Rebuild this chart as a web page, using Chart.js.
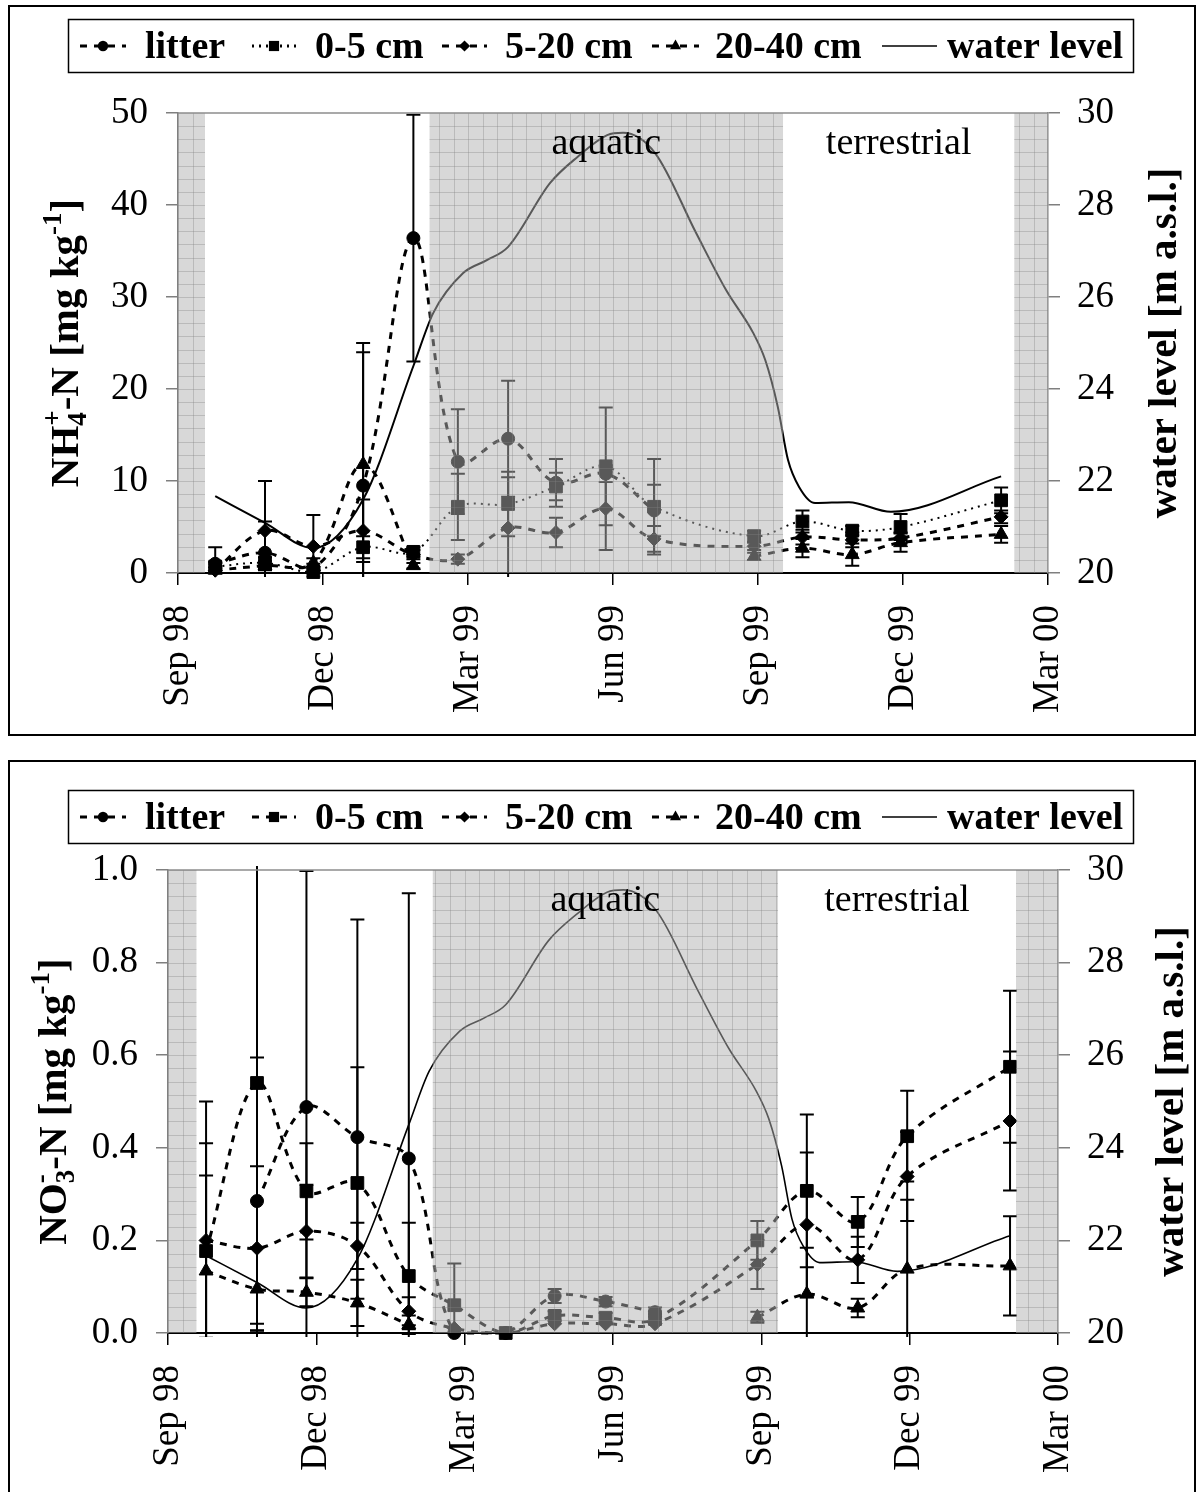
<!DOCTYPE html>
<html>
<head>
<meta charset="utf-8">
<script src="https://cdn.jsdelivr.net/npm/chart.js@4.4.1/dist/chart.umd.min.js"></script>
<style>
  body { margin: 0; background: #fff; width: 1200px; height: 1492px; position: relative; overflow: hidden; }
  canvas { position: absolute; left: 0; }
  #nh4 { top: 0; }
  #no3 { top: 750px; }
  .frame { position: absolute; border: 2px solid #000; box-sizing: border-box; pointer-events: none; }
</style>
</head>
<body>
<canvas id="nh4" width="1200" height="740"></canvas>
<canvas id="no3" width="1200" height="742"></canvas>
<div class="frame" style="left:8px;top:5px;width:1188px;height:731px"></div>
<div class="frame" style="left:8px;top:760px;width:1188px;height:760px"></div>
<script>
const tickLabels = ["Sep 98", "Dec 98", "Mar 99", "Jun 99", "Sep 99", "Dec 99", "Mar 00"];

// sampling dates in months after 1 Sep 1998
const sampleMonths = [0.77, 1.8, 2.8, 3.83, 4.87, 5.79, 6.83, 7.82, 8.85, 9.85, 11.92, 12.92, 13.95, 14.95, 17.03];

// NH4+-N [mg/kg], means and standard deviations
const nh4Litter   = [1.0, 2.2, 0.5, 9.5, 36.4, 12.1, 14.6, 9.8, 10.8, 6.8, null, null, null, null, null];
const nh4LitterSd = [1.8, 3.4, 0.5, 14.5, 13.4, 5.7, 6.3, 2.6, 0.9, 2.8, null, null, null, null, null];
const nh4Top      = [0.7, 1.1, 0.1, 2.8, 2.3, 7.2, 7.5, 9.4, 11.6, 7.2, 4.0, 5.6, 4.6, 5.0, 7.9];
const nh4TopSd    = [0.5, 0.6, 0.1, 1.2, 0.5, 3.6, 3.5, 1.5, 6.4, 5.2, 0.6, 1.2, 0.5, 1.4, 1.4];
const nh4Mid      = [0.3, 4.6, 2.9, 4.6, 2.0, 1.5, 4.9, 4.4, 7.0, 3.7, 2.9, 3.9, 3.6, 3.8, 6.1];
const nh4MidSd    = [0.3, 5.4, 3.4, 3.4, 0.5, 0.5, 5.5, 1.6, 4.5, 1.4, 0.4, 0.8, 0.8, 0.6, 0.7];
const nh4Deep     = [0.3, 0.8, 1.1, 11.8, 0.8, null, null, null, null, null, 1.8, 2.7, 2.0, 3.3, 4.2];
const nh4DeepSd   = [0.3, 0.5, 0.5, 13.2, 0.3, null, null, null, null, null, 0.4, 1.0, 1.2, 1.0, 0.9];

// NO3--N [mg/kg], means and standard deviations
const no3Litter   = [null, 0.285, 0.488, 0.423, 0.377, 0.0, 0.0, 0.08, 0.068, 0.045, null, null, null, null, null];
const no3LitterSd = [null, 0.31, 0.51, 0.47, 0.573, 0, 0, 0.015, 0.01, 0.01, null, null, null, null, null];
const no3Top      = [0.177, 0.54, 0.306, 0.324, 0.123, 0.06, 0.0, 0.037, 0.033, 0.03, 0.2, 0.307, 0.24, 0.425, 0.575];
const no3TopSd    = [0.323, 0.52, 0.104, 0.25, 0.115, 0.09, 0, 0.01, 0.01, 0.01, 0.042, 0.165, 0.054, 0.098, 0.164];
const no3Mid      = [0.2, 0.183, 0.22, 0.188, 0.047, 0.01, 0.0, 0.02, 0.02, 0.02, 0.148, 0.234, 0.158, 0.338, 0.458];
const no3MidSd    = [0.21, 0.177, 0.1, 0.05, 0.03, 0, 0, 0, 0, 0, 0.053, 0.156, 0.05, 0.096, 0.15];
const no3Deep     = [0.134, 0.095, 0.088, 0.065, 0.018, null, null, null, null, null, 0.034, 0.084, 0.054, 0.138, 0.145];
const no3DeepSd   = [0.206, 0.09, 0.03, 0.05, 0.02, null, null, null, null, null, 0.012, 0.1, 0.02, 0.15, 0.107];

// river water level [m a.s.l.]
const waterMonths = [0.77, 1.8, 2.79, 3.83, 4.87, 5.28, 5.9, 6.39, 6.83, 7.7, 8.26, 8.88, 9.21, 9.87, 10.72, 11.34, 11.9, 12.15, 12.41, 12.62, 12.85, 13.18, 13.88, 14.75, 17.03];
const waterLevel  = [21.67, 21.09, 20.54, 21.6, 24.5, 25.65, 26.52, 26.8, 27.09, 28.48, 29.04, 29.52, 29.57, 29.13, 27.39, 26.15, 25.22, 24.63, 23.61, 22.46, 21.87, 21.52, 21.54, 21.33, 22.1];

// flooded periods (months) for each sampling series
const floodedNh4 = [[0, 0.56], [5.2, 12.52], [17.3, 18]];
const floodedNo3 = [[0, 0.58], [5.35, 12.34], [17.15, 18]];

const serif = '"Liberation Serif", "Times New Roman", serif';
Chart.defaults.font.family = serif;
Chart.defaults.color = '#000';

function pts(xs, ys) {
  return xs.map((m, i) => ({ x: m, y: ys[i] }));
}

function marker(ctx, style, cx, cy, r) {
  ctx.beginPath();
  if (style === 'circle') {
    ctx.arc(cx, cy, r, 0, Math.PI * 2);
  } else if (style === 'rect') {
    const h = r * Math.SQRT1_2;
    ctx.rect(cx - h, cy - h, 2 * h, 2 * h);
  } else if (style === 'rectRot') {
    ctx.moveTo(cx, cy - r); ctx.lineTo(cx + r, cy); ctx.lineTo(cx, cy + r); ctx.lineTo(cx - r, cy);
    ctx.closePath();
  } else if (style === 'triangle') {
    ctx.moveTo(cx, cy - r);
    ctx.lineTo(cx + r * 0.866, cy + r * 0.5);
    ctx.lineTo(cx - r * 0.866, cy + r * 0.5);
    ctx.closePath();
  }
  ctx.fill();
}

// text with sub- and superscripts, drawn rotated so it reads bottom to top
function drawRotatedRich(ctx, parts, bx, cy, size) {
  const small = Math.round(size * 0.66);
  const items = [];
  let x = 0, lastX = 0, lastW = 0;
  parts.forEach(([t, k]) => {
    const s = k ? small : size;
    ctx.font = `bold ${s}px ${serif}`;
    const w = ctx.measureText(t).width;
    if (k === 'over') {
      items.push({ t, s, x: lastX, dy: -size * 0.42 });
      x = lastX + Math.max(lastW, w);
    } else {
      const dy = k === 'sub' ? size * 0.2 : k === 'sup' ? -size * 0.42 : 0;
      items.push({ t, s, x, dy });
      lastX = x; lastW = w; x += w;
    }
  });
  ctx.save();
  ctx.translate(bx, cy);
  ctx.rotate(-Math.PI / 2);
  ctx.fillStyle = '#000';
  ctx.textBaseline = 'alphabetic';
  ctx.textAlign = 'left';
  items.forEach(it => {
    ctx.font = `bold ${it.s}px ${serif}`;
    ctx.fillText(it.t, it.x - x / 2, it.dy);
  });
  ctx.restore();
}

const phasePlugin = {
  id: 'phases',
  afterDatasetsDraw(chart, args, o) {
    const { ctx, chartArea: a } = chart;
    const xs = chart.scales.x, ys = chart.scales.y;

    // error bars (mean +- SD), cut at the plot area
    ctx.save();
    ctx.beginPath();
    ctx.rect(a.left - 20, a.top - 4, a.width + 40, a.height + 8);
    ctx.clip();
    ctx.strokeStyle = '#000';
    ctx.lineWidth = 2;
    chart.data.datasets.forEach(ds => {
      if (!ds.sd) return;
      ds.data.forEach((p, i) => {
        const e = ds.sd[i];
        if (p.y == null || !e) return;
        const px = xs.getPixelForValue(p.x);
        const hi = ys.getPixelForValue(p.y + e);
        const lo = ys.getPixelForValue(p.y - e);
        ctx.beginPath();
        ctx.moveTo(px, hi); ctx.lineTo(px, lo);
        ctx.moveTo(px - 7, hi); ctx.lineTo(px + 7, hi);
        ctx.moveTo(px - 7, lo); ctx.lineTo(px + 7, lo);
        ctx.stroke();
      });
    });
    ctx.restore();

    // flooded periods: translucent grey with a fine grid laid over the data
    const colW = a.width / 60, rowH = a.height / 35;
    o.bands.forEach(([m0, m1]) => {
      const x0 = xs.getPixelForValue(m0), x1 = xs.getPixelForValue(m1);
      ctx.save();
      ctx.beginPath();
      ctx.rect(x0, a.top, x1 - x0, a.height);
      ctx.clip();
      ctx.fillStyle = 'rgba(178,178,178,0.5)';
      ctx.fillRect(x0, a.top, x1 - x0, a.height);
      ctx.strokeStyle = 'rgba(130,130,130,0.35)';
      ctx.lineWidth = 1;
      ctx.beginPath();
      for (let gx = a.left; gx <= a.right; gx += colW) {
        ctx.moveTo(Math.round(gx) + 0.5, a.top); ctx.lineTo(Math.round(gx) + 0.5, a.bottom);
      }
      for (let gy = a.bottom; gy >= a.top; gy -= rowH) {
        ctx.moveTo(x0, Math.round(gy) + 0.5); ctx.lineTo(x1, Math.round(gy) + 0.5);
      }
      ctx.stroke();
      ctx.restore();
    });

    // phase names
    const wet = o.bands[1], dry = [o.bands[1][1], o.bands[2][0]];
    ctx.save();
    ctx.fillStyle = '#000';
    ctx.font = `38px ${serif}`;
    ctx.textAlign = 'center';
    ctx.textBaseline = 'alphabetic';
    ctx.fillText('aquatic', (xs.getPixelForValue(wet[0]) + xs.getPixelForValue(wet[1])) / 2, a.top + 41);
    ctx.fillText('terrestrial', (xs.getPixelForValue(dry[0]) + xs.getPixelForValue(dry[1])) / 2, a.top + 41);
    ctx.restore();
  },
  afterDraw(chart, args, o) {
    const { ctx, chartArea: a } = chart;

    // plot area outline
    ctx.save();
    ctx.strokeStyle = '#8c8c8c';
    ctx.lineWidth = 1.5;
    ctx.beginPath();
    ctx.moveTo(a.left, a.top); ctx.lineTo(a.right, a.top);
    ctx.stroke();
    ctx.restore();

    // legend
    const top = o.legendTop, h = 53;
    ctx.save();
    ctx.strokeStyle = '#000';
    ctx.lineWidth = 1.5;
    ctx.strokeRect(68.5, top + 0.5, 1065, h);
    const slots = [[80, 126, 145], [252, 296, 315], [442, 487, 505], [652, 699, 715], [882, 937, 947]];
    const midY = top + 27;
    chart.data.datasets.forEach((ds, i) => {
      const [s0, s1, tx] = slots[i];
      ctx.strokeStyle = '#000';
      ctx.fillStyle = '#000';
      ctx.lineWidth = ds.pointRadius ? 3 : 1.5;
      ctx.setLineDash(ds.borderDash || []);
      ctx.beginPath();
      ctx.moveTo(s0, midY); ctx.lineTo(s1, midY);
      ctx.stroke();
      ctx.setLineDash([]);
      if (ds.pointRadius) marker(ctx, ds.pointStyle, (s0 + s1) / 2, midY, ds.pointRadius * 0.8);
      ctx.font = `bold 38px ${serif}`;
      ctx.textBaseline = 'alphabetic';
      ctx.fillText(ds.label, tx, top + 39);
    });
    ctx.restore();

    // axis titles
    drawRotatedRich(ctx, o.leftTitle, o.leftX, (a.top + a.bottom) / 2, 41);
    drawRotatedRich(ctx, [['water level [m a.s.l.]', '']], o.rightX, (a.top + a.bottom) / 2, 41);
  }
};

function lineSet(label, values, sd, style, radius, dash, width) {
  return {
    label, data: pts(sampleMonths, values), sd,
    yAxisID: 'y', pointStyle: style, pointRadius: radius,
    pointBackgroundColor: '#000', pointBorderColor: '#000', pointBorderWidth: 1,
    borderColor: '#000', borderWidth: width, borderDash: dash,
    tension: 0.35, spanGaps: false, clip: 12
  };
}

function waterSet(width) {
  return {
    label: 'water level', data: pts(waterMonths, waterLevel), yAxisID: 'y2',
    pointRadius: 0, borderColor: '#000', borderWidth: width,
    cubicInterpolationMode: 'monotone', clip: 4
  };
}

function buildChart(id, cfg) {
  const axisGrey = '#7f7f7f';
  return new Chart(document.getElementById(id), {
    type: 'line',
    data: { datasets: cfg.datasets },
    options: {
      responsive: false,
      animation: false,
      events: [],
      layout: { padding: { top: cfg.top, left: 0, right: 0, bottom: 0 } },
      plugins: {
        legend: { display: false },
        tooltip: { enabled: false },
        phases: cfg.phases
      },
      scales: {
        x: {
          type: 'linear', min: 0, max: 18,
          afterFit: s => { s.height = cfg.xHeight; },
          ticks: {
            stepSize: 3, autoSkip: false, minRotation: 90, maxRotation: 90, padding: 20,
            font: { size: 37 }, color: '#000',
            callback: v => tickLabels[Math.round(v / 3)]
          },
          grid: { drawOnChartArea: false, tickLength: 12, color: '#000', lineWidth: 1.5 },
          border: { color: '#000', width: 2 }
        },
        y: {
          position: 'left', min: 0, max: cfg.yMax,
          afterFit: s => { s.width = cfg.leftW; },
          ticks: { stepSize: cfg.yStep, padding: 18, font: { size: 37 }, color: '#000', callback: cfg.yFmt },
          grid: { drawOnChartArea: false, tickLength: 12, color: axisGrey, lineWidth: 1.5 },
          border: { color: axisGrey, width: 1.5 }
        },
        y2: {
          position: 'right', min: 20, max: 30,
          afterFit: s => { s.width = cfg.rightW; },
          ticks: { stepSize: 2, padding: 17, font: { size: 37 }, color: '#000' },
          grid: { drawOnChartArea: false, tickLength: 12, color: axisGrey, lineWidth: 1.5 },
          border: { color: axisGrey, width: 1.5 }
        }
      }
    },
    plugins: [phasePlugin]
  });
}

const dashed = [7, 7];

buildChart('nh4', {
  top: 113, xHeight: 167, leftW: 178, rightW: 152,
  yMax: 50, yStep: 10, yFmt: v => v,
  datasets: [
    lineSet('litter', nh4Litter, nh4LitterSd, 'circle', 6.5, dashed, 3),
    lineSet('0-5 cm', nh4Top, nh4TopSd, 'rect', 9, [2, 5], 2),
    lineSet('5-20 cm', nh4Mid, nh4MidSd, 'rectRot', 7, dashed, 3),
    lineSet('20-40 cm', nh4Deep, nh4DeepSd, 'triangle', 8, dashed, 3),
    waterSet(2)
  ],
  phases: {
    bands: floodedNh4, legendTop: 19, leftX: 78, rightX: 1176,
    leftTitle: [['NH', ''], ['4', 'sub'], ['+', 'over'], ['-N [mg kg', ''], ['-1', 'sup'], [']', '']]
  }
});

buildChart('no3', {
  top: 120, xHeight: 159, leftW: 168, rightW: 142,
  yMax: 1.0, yStep: 0.2, yFmt: v => v.toFixed(1),
  datasets: [
    lineSet('litter', no3Litter, no3LitterSd, 'circle', 6.5, dashed, 3),
    lineSet('0-5 cm', no3Top, no3TopSd, 'rect', 9, dashed, 3),
    lineSet('5-20 cm', no3Mid, no3MidSd, 'rectRot', 7, dashed, 3),
    lineSet('20-40 cm', no3Deep, no3DeepSd, 'triangle', 8, dashed, 3),
    waterSet(1.6)
  ],
  phases: {
    bands: floodedNo3, legendTop: 40, leftX: 66, rightX: 1183,
    leftTitle: [['NO', ''], ['3', 'sub'], ['-', 'over'], ['-N [mg kg', ''], ['-1', 'sup'], [']', '']]
  }
});
</script>
</body>
</html>
